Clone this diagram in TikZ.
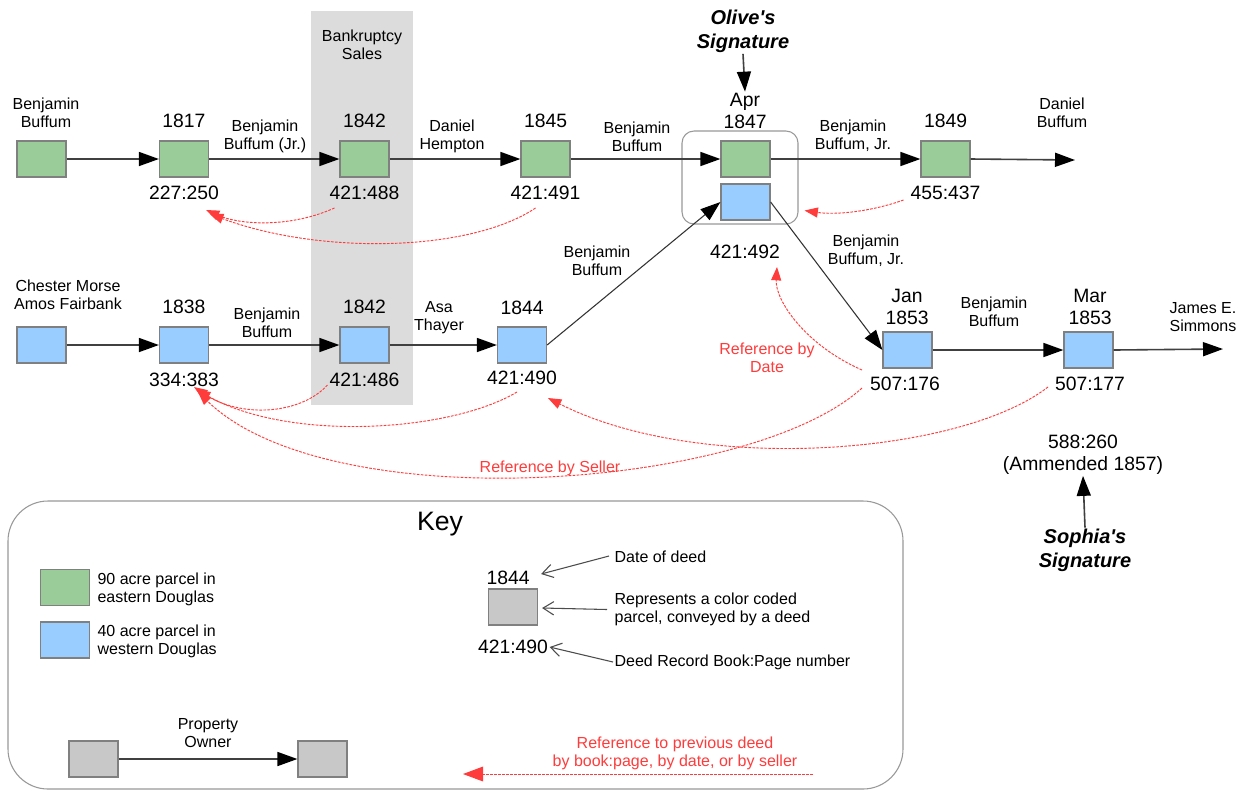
\documentclass[tikz,border=0pt]{standalone}
\usepackage{fontspec}
\newfontfamily\arial{Liberation Sans}
\usetikzlibrary{arrows.meta,calc}
\definecolor{pgreen}{RGB}{153,204,153}
\definecolor{pblue}{RGB}{153,204,255}
\definecolor{pgray}{RGB}{200,200,200}
\definecolor{band}{RGB}{220,220,220}
\definecolor{refred}{RGB}{255,60,60}
\definecolor{boxedge}{RGB}{128,128,128}
\begin{document}
\begin{tikzpicture}[x=0.75pt,y=-0.75pt,
  every node/.style={font=\arial},
  parcel/.style={draw=boxedge, line width=0.9pt, minimum width=36.75pt, minimum height=27pt, inner sep=0pt},
  lbl/.style={font=\arial\fontsize{12}{13.5}\selectfont, align=center, inner sep=1pt},
  num/.style={font=\arial\fontsize{14.5}{16.5}\selectfont, align=center, inner sep=1pt},
  sig/.style={font=\arial\fontsize{15}{18}\selectfont\bfseries\itshape, align=center, inner sep=1pt},
  conv/.style={draw=black!75, line width=1.2pt, -{Triangle[length=15pt,width=10.5pt,color=black,fill=black]}},
  diag/.style={draw=black!80, line width=0.8pt, -{Triangle[length=15pt,width=10.5pt,color=black,fill=black]}},
  ref/.style={draw=refred, line width=0.7pt, dash pattern=on 2pt off 1pt, -{Triangle[length=10pt,width=7.5pt]}},
  reftext/.style={text=refred, font=\arial\fontsize{12}{13.5}\selectfont, align=center, inner sep=1pt},
  openarr/.style={draw=black!70, line width=0.8pt, -{Straight Barb[length=8pt,width=10pt]}}
]
\useasboundingbox (0,0) rectangle (1241,790);
\fill[white] (0,0) rectangle (1241,790);

% bankruptcy band
\fill[band] (311,11) rectangle (413,405);
\node[lbl] (bk) at (362,45) {Bankruptcy\\Sales};

% group box around Apr 1847
\node[draw=boxedge!80, line width=0.8pt, rounded corners=9pt, minimum width=87pt, minimum height=69.75pt, inner sep=0pt] (grp) at (740,177.5) {};

% top row parcels
\node[parcel, fill=pgreen] (g0) at (41.5,159) {};
\node[parcel, fill=pgreen] (g1) at (184,159) {};
\node[parcel, fill=pgreen] (g2) at (364.5,159) {};
\node[parcel, fill=pgreen] (g3) at (545.5,159) {};
\node[parcel, fill=pgreen] (g4) at (745.5,159) {};
\node[parcel, fill=pblue] (b4) at (745.5,202) {};
\node[parcel, fill=pgreen] (g5) at (945.5,159) {};
\coordinate (gend) at (1075,160);

% top row labels
\node[lbl] (o0) at (46,113) {Benjamin\\Buffum};
\node[num] (d1) at (184,121) {1817};
\node[num] (r1) at (184,193) {227:250};
\node[lbl] (e1) at (265,136.5) {Benjamin\\Buffum (Jr.)};
\node[num] (d2) at (364.5,121) {1842};
\node[num] (r2) at (364.5,193) {421:488};
\node[lbl] (e2) at (452,136.5) {Daniel\\Hempton};
\node[num] (d3) at (545.5,121) {1845};
\node[num] (r3) at (545.5,193) {421:491};
\node[lbl] (e3) at (637,137) {Benjamin\\Buffum};
\node[num] (d4) at (745,111) {Apr\\1847};
\node[num] (r4) at (745,252) {421:492};
\node[lbl] (e4) at (853,135.5) {Benjamin\\Buffum, Jr.};
\node[num] (d5) at (945.5,121) {1849};
\node[num] (r5) at (945.5,193) {455:437};
\node[lbl] (o5) at (1062,113) {Daniel\\Buffum};
\node[sig] (olive) at (743,31) {Olive's\\Signature};

% bottom row parcels
\node[parcel, fill=pblue] (b0) at (41.5,345) {};
\node[parcel, fill=pblue] (b1) at (184,345) {};
\node[parcel, fill=pblue] (b2) at (364.5,345) {};
\node[parcel, fill=pblue] (b3) at (522,345) {};
\node[parcel, fill=pblue] (b6) at (907.5,350) {};
\node[parcel, fill=pblue] (b7) at (1088.5,350) {};
\coordinate (bend) at (1223,349);

% bottom row labels
\node[lbl] (o0b) at (68,294.5) {Chester Morse\\Amos Fairbank};
\node[num] (d1b) at (184,307) {1838};
\node[num] (r1b) at (184,380) {334:383};
\node[lbl] (e1b) at (267,322.5) {Benjamin\\Buffum};
\node[num] (d2b) at (364.5,307) {1842};
\node[num] (r2b) at (364.5,380) {421:486};
\node[lbl] (e2b) at (439,318) {Asa\\Thayer};
\node[num] (d3b) at (522,308) {1844};
\node[num] (r3b) at (522,378) {421:490};
\node[lbl] (e3b) at (597,261) {Benjamin\\Buffum};
\node[lbl] (e4b) at (866,250.5) {Benjamin\\Buffum, Jr.};
\node[num] (d6) at (907,307) {Jan\\1853};
\node[num] (r6) at (905,384) {507:176};
\node[lbl] (e6) at (994,311.5) {Benjamin\\Buffum};
\node[num] (d7) at (1090,307) {Mar\\1853};
\node[num] (r7) at (1090,384) {507:177};
\node[lbl] (o7) at (1203,317.5) {James E.\\Simmons};
\node[num] (amd) at (1083,454.5) {588:260\\(Ammended 1857)};
\node[sig] (sophia) at (1085,550.5) {Sophia's\\Signature};

% conveyance connectors
\draw[conv] (g0.east) -- (g1.west);
\draw[conv] (g1.east) -- (g2.west);
\draw[conv] (g2.east) -- (g3.west);
\draw[conv] (g3.east) -- (g4.west);
\draw[conv] (g4.east) -- (g5.west);
\draw[conv] (g5.east) -- (gend);
\draw[conv] (b0.east) -- (b1.west);
\draw[conv] (b1.east) -- (b2.west);
\draw[conv] (b2.east) -- (b3.west);
\draw[diag] (b3.east) -- (b4.west);
\draw[diag] (b4.east) -- (b6.west);
\draw[conv] (b6.east) -- (b7.west);
\draw[conv] (b7.east) -- (bend);
\draw[conv] (olive.south) -- (d4.north);
\draw[conv] (sophia.north) -- (amd.south);

% reference connectors
\draw[ref] ($(r2.center)+(-30,15)$) .. controls (290,228) and (240,225) .. ($(r1.center)+(22,17)$);
\draw[ref] ($(r3.center)+(-10,15)$) .. controls (470,252) and (320,255) .. ($(r1.center)+(26,21)$);
\draw[ref] ($(r5.center)+(-42,7)$) .. controls (870,212) and (835,215) .. ($(grp.south east)+(6,-14)$);
\draw[ref] ($(r6.center)+(-43,-14)$) .. controls (805,345) and (775,300) .. ($(r4.center)+(32,15)$);
\node[reftext] (rdate) at (767,357.5) {Reference by\\Date};
\draw[ref] ($(r2b.center)+(-37,5)$) .. controls (300,415) and (240,418) .. ($(r1b.center)+(10,7)$);
\draw[ref] ($(r3b.center)+(-5,14)$) .. controls (450,432) and (290,442) .. ($(r1b.center)+(13,10)$);
\draw[ref] ($(r6.center)+(-43,4)$) .. controls (750,490) and (330,520) .. ($(r1b.center)+(14,12)$);
\draw[ref] ($(r7.center)+(-42,3)$) .. controls (960,455) and (700,475) .. ($(r3b.center)+(26,20)$);
\node[reftext] (rseller) at (550,468) {Reference by Seller};

% key
\node[draw=boxedge!80, line width=0.8pt, rounded corners=30pt, minimum width=671.25pt, minimum height=216pt, inner sep=0pt] (key) at (455.5,645) {};
\node[font=\arial\fontsize{20}{24}\selectfont] (keyt) at (440,524) {Key};
\node[parcel, fill=pgreen] (kg) at (65,587.5) {};
\node[parcel, fill=pblue] (kb) at (65,640) {};
\node[lbl, anchor=west, align=left] (kgt) at (96,589.5) {90 acre parcel in\\eastern Douglas};
\node[lbl, anchor=west, align=left] (kbt) at (96,641) {40 acre parcel in\\western Douglas};

\node[num] (kd) at (508,578) {1844};
\node[parcel, fill=pgray] (kx) at (513,607) {};
\node[num] (kr) at (513,647) {421:490};
\node[lbl, anchor=west] (kt1) at (613,557) {Date of deed};
\node[lbl, anchor=west, align=left] (kt2) at (613,609.5) {Represents a color coded\\parcel, conveyed by a deed};
\node[lbl, anchor=west] (kt3) at (613,662) {Deed Record Book:Page number};
\draw[openarr] ($(kt1.west)+(-4,-1)$) -- ($(kd.east)+(10,-4)$);
\draw[openarr] ($(kt2.west)+(-6,0)$) -- ($(kx.east)+(4,1)$);
\draw[openarr] (kt3.west) -- (kr.east);

\node[parcel, fill=pgray] (ka) at (93.5,759) {};
\node[parcel, fill=pgray] (kc) at (322.5,759) {};
\draw[conv] (ka.east) -- (kc.west);
\node[lbl] (ko) at (208,733) {Property\\Owner};

\node[reftext] (kref) at (675,753.5) {Reference to previous deed\\by book:page, by date, or by seller};
\coordinate (krs) at (813,774);
\coordinate (kre) at (463,774);
\draw[ref, -{Triangle[length=15pt,width=11pt]}] (krs) -- (kre);
\end{tikzpicture}
\end{document}
